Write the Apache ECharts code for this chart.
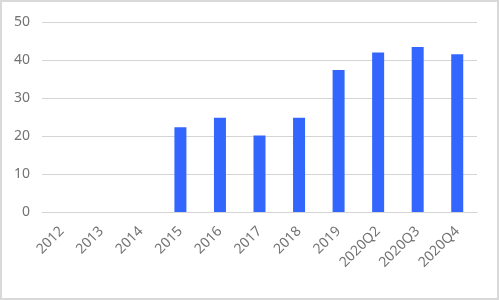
<!DOCTYPE html>
<html>
<head>
<meta charset="utf-8">
<script src="https://cdn.jsdelivr.net/npm/echarts@6/dist/echarts.min.js"></script>
<style>
html,body{margin:0;padding:0;background:#fff;}
#chart{width:499px;height:300px;}
</style>
</head>
<body>
<div id="chart"></div>
<script>
const categories = ['2012','2013','2014','2015','2016','2017','2018','2019','2020Q2','2020Q3','2020Q4'];
const values = [null, null, null, 22.3, 24.8, 20.1, 24.8, 37.4, 42.0, 43.4, 41.5];
const yTicks = {min: 0, max: 50, interval: 10};

const chart = echarts.init(document.getElementById('chart'), null, {renderer: 'canvas'});
chart.setOption({
  animation: false,
  backgroundColor: '#fff',
  textStyle: {fontFamily: 'Noto Sans'},
  graphic: [{
    type: 'rect',
    shape: {x: 1, y: 1, width: 497, height: 298},
    style: {fill: 'none', stroke: '#d9d9d9', lineWidth: 2},
    z: 100
  }],
  grid: {left: 42, right: 22, top: 22, bottom: 88, containLabel: false},
  xAxis: {
    type: 'category',
    data: categories,
    axisTick: {show: false},
    axisLine: {show: true, lineStyle: {color: '#d4d4d4', width: 1}},
    axisLabel: {
      rotate: 45,
      interval: 0,
      margin: 17,
      color: '#737373',
      fontSize: 14,
      fontFamily: 'Noto Sans'
    }
  },
  yAxis: {
    type: 'value',
    min: yTicks.min,
    max: yTicks.max,
    interval: yTicks.interval,
    axisLine: {show: false},
    axisTick: {show: false},
    splitLine: {lineStyle: {color: '#d4d4d4', width: 1}},
    axisLabel: {color: '#737373', fontSize: 14, margin: 12, fontFamily: 'Noto Sans'}
  },
  series: [{
    type: 'bar',
    data: values,
    barWidth: 12,
    itemStyle: {color: '#3366ff'}
  }]
});
</script>
</body>
</html>
